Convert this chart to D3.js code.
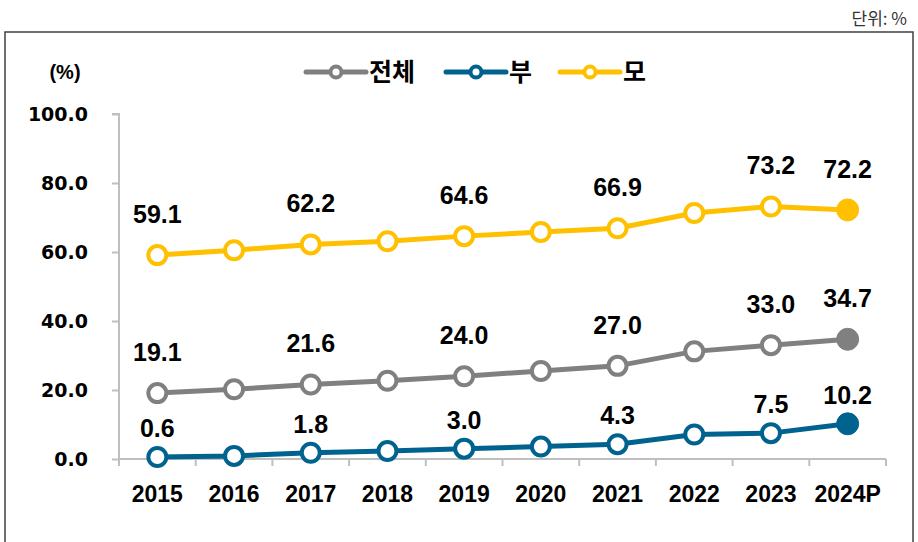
<!DOCTYPE html>
<html>
<head>
<meta charset="utf-8">
<script src="https://cdn.jsdelivr.net/npm/d3@7"></script>
<style>
  body { margin: 0; background: #fff; }
  svg { display: block; }
</style>
</head>
<body>
<svg id="chart" width="918" height="542"></svg>
<script>
// ==================================
// DATA
// ==================================
const years = ["2015", "2016", "2017", "2018", "2019", "2020", "2021", "2022", "2023", "2024P"];
const totalValues = [19.1, 20.2, 21.6, 22.7, 24.0, 25.5, 27.0, 31.2, 33.0, 34.7];
const fatherValues = [0.6, 0.9, 1.8, 2.3, 3.0, 3.6, 4.3, 7.1, 7.5, 10.2];
const motherValues = [59.1, 60.5, 62.2, 63.1, 64.6, 65.8, 66.9, 71.3, 73.2, 72.2];
const seriesNames = ["전체", "부", "모"];
const yTicks = [0, 20, 40, 60, 80, 100];
// only every other year (and the last one) gets a value label
const labelledYears = ["2015", "2017", "2019", "2021", "2023", "2024P"];

const series = [
    { name: seriesNames[0], values: totalValues, color: "#808080", labelGap: 32 },
    { name: seriesNames[1], values: fatherValues, color: "#00628F", labelGap: 20 },
    { name: seriesNames[2], values: motherValues, color: "#FFC000", labelGap: 32 }
];

const svg = d3.select("#chart");
const numFont = "'Liberation Sans', Arial, sans-serif";
const krFont = "'Noto Sans CJK KR', 'Noto Sans', sans-serif";

// outer frame
svg.append("rect")
    .attr("x", 5).attr("y", 32)
    .attr("width", 908).attr("height", 530)
    .attr("fill", "none")
    .attr("stroke", "#404040")
    .attr("stroke-width", 1.5);

// unit note
svg.append("text")
    .attr("x", 907).attr("y", 25)
    .attr("text-anchor", "end")
    .style("font-family", krFont)
    .style("font-size", "17px")
    .style("fill", "#333")
    .text("단위:  %");

// ==================================
// SCALES
// ==================================
const x = d3.scaleBand().domain(years).range([119, 886]);
const y = d3.scaleLinear().domain([0, 100]).range([459, 114]);
const cx = d => x(d) + x.bandwidth() / 2;

// y axis
const yAxis = svg.append("g")
    .attr("transform", "translate(119,0)")
    .call(d3.axisLeft(y).tickValues(yTicks).tickSize(7).tickPadding(24).tickFormat(d3.format(".1f")));
yAxis.select(".domain").attr("stroke", "#BFBFBF").attr("stroke-width", 2)
    .attr("d", "M-7," + y(100) + "H0V" + y(0));
yAxis.selectAll(".tick line").attr("stroke", "#BFBFBF").attr("stroke-width", 2);
yAxis.selectAll(".tick text")
    .style("font-family", "'DejaVu Sans', Verdana, sans-serif")
    .style("font-weight", "bold")
    .style("font-size", "19px")
    .style("fill", "#000");

// x axis: ticks at band boundaries
const xAxis = svg.append("g")
    .attr("transform", "translate(0," + y(0) + ")");
xAxis.append("line")
    .attr("x1", x.range()[0]).attr("x2", x.range()[1])
    .attr("stroke", "#BFBFBF").attr("stroke-width", 2);
const bounds = years.map(d => x(d)).concat([x.range()[1]]);
xAxis.selectAll("line.tk")
    .data(bounds)
    .enter().append("line")
    .attr("class", "tk")
    .attr("x1", d => d).attr("x2", d => d)
    .attr("y1", 0).attr("y2", 7)
    .attr("stroke", "#BFBFBF").attr("stroke-width", 2);
xAxis.selectAll("text")
    .data(years)
    .enter().append("text")
    .attr("x", d => cx(d))
    .attr("y", 43)
    .attr("text-anchor", "middle")
    .style("font-family", numFont)
    .style("font-weight", "bold")
    .style("font-size", "23px")
    .text(d => d);

// "(%)" axis title
svg.append("text")
    .attr("x", 65).attr("y", 79)
    .attr("text-anchor", "middle")
    .style("font-family", numFont)
    .style("font-weight", "bold")
    .style("font-size", "20px")
    .text("(%)");

// ==================================
// LINES
// ==================================
const line = d3.line()
    .x((d, i) => cx(years[i]))
    .y(d => y(d));

series.forEach(s => {
    const g = svg.append("g");
    g.append("path")
        .datum(s.values)
        .attr("d", line)
        .attr("fill", "none")
        .attr("stroke", s.color)
        .attr("stroke-width", 5);

    g.selectAll("circle")
        .data(s.values)
        .enter().append("circle")
        .attr("cx", (d, i) => cx(years[i]))
        .attr("cy", d => y(d))
        .attr("r", (d, i) => i === years.length - 1 ? 11 : 9)
        .attr("fill", (d, i) => i === years.length - 1 ? s.color : "#fff")
        .attr("stroke", s.color)
        .attr("stroke-width", (d, i) => i === years.length - 1 ? 1 : 4);

    g.selectAll("text")
        .data(s.values.map((v, i) => ({ v: v, year: years[i] })).filter(d => labelledYears.includes(d.year)))
        .enter().append("text")
        .attr("x", d => cx(d.year))
        .attr("y", d => y(d.v) - s.labelGap)
        .attr("text-anchor", "middle")
        .style("font-family", numFont)
        .style("font-weight", "bold")
        .style("font-size", "25px")
        .text(d => d.v.toFixed(1));
});

// ==================================
// LEGEND
// ==================================
const legendX = [306, 446, 560];
const legend = svg.append("g").attr("transform", "translate(0,72)");
series.forEach((s, i) => {
    const item = legend.append("g").attr("transform", "translate(" + legendX[i] + ",0)");
    item.append("line")
        .attr("x1", 0).attr("x2", 60)
        .attr("stroke", s.color).attr("stroke-width", 5)
        .attr("stroke-linecap", "round");
    item.append("circle")
        .attr("cx", 30).attr("r", 5.5)
        .attr("fill", "#fff")
        .attr("stroke", s.color).attr("stroke-width", 4);
    item.append("text")
        .attr("x", 63).attr("y", 9)
        .style("font-family", krFont)
        .style("font-weight", "bold")
        .style("font-size", "25px")
        .text(s.name);
});
</script>
</body>
</html>
